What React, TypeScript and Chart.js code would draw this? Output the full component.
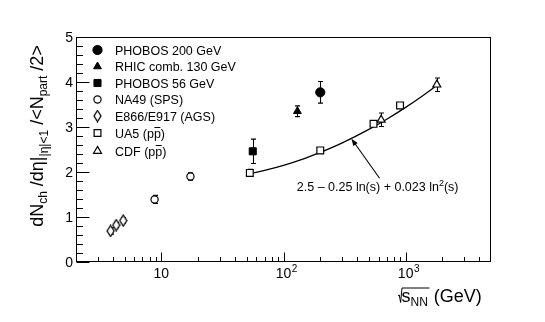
import React, { useEffect, useRef } from "react";
import { Chart, registerables } from "chart.js";
import { drawPoint } from "chart.js/helpers";

Chart.register(...registerables);

// ---------------- data ----------------
const phobos200X = [200];
const phobos200Y = [3.77];
const phobos200Err = [0.24];

const rhic130X = [130];
const rhic130Y = [3.35];
const rhic130Err = [0.12];

const phobos56X = [56];
const phobos56Y = [2.46];
const phobos56Err = [0.27];

const na49X = [8.8, 17.3];
const na49Y = [1.39, 1.9];
const na49Err = [0.09, 0.08];

const agsX = [3.84, 4.27, 4.87];
const agsY = [0.69, 0.82, 0.92];
const agsErr = [0.07, 0.06, 0.06];

const ua5X = [53, 200, 546, 900];
const ua5Y = [1.98, 2.48, 3.07, 3.48];
const ua5Err = [0.08, 0.05, 0.05, 0.05];

const cdfX = [630, 1800];
const cdfY = [3.16, 3.94];
const cdfErr = [0.15, 0.15];

// fit curve 2.5 - 0.25 ln(s) + 0.023 ln^2(s), sampled points
const fitX = [53, 70, 100, 150, 200, 300, 500, 700, 1000, 1400, 1800];
const fitY = [1.965, 2.037, 2.149, 2.305, 2.434, 2.641, 2.946, 3.173, 3.436, 3.706, 3.922];

// axes
const xMin = 2;
const xMax = 5000;
const yMin = 0;
const yMax = 5;
const xMajorTicks = [10, 100, 1000];
const xMajorExp = ["", "2", "3"];
const xMinorTicks = [3, 4, 5, 6, 7, 8, 9, 20, 30, 40, 50, 60, 70, 80, 90, 200, 300, 400, 500, 600, 700, 800, 900, 2000, 3000, 4000];
const yMajorTicks = [0, 1, 2, 3, 4, 5];
const yMinorTicks = [0.2, 0.4, 0.6, 0.8, 1.2, 1.4, 1.6, 1.8, 2.2, 2.4, 2.6, 2.8, 3.2, 3.4, 3.6, 3.8, 4.2, 4.4, 4.6, 4.8];

const legendLabels = [
  "PHOBOS 200 GeV",
  "RHIC comb. 130 GeV",
  "PHOBOS 56 GeV",
  "NA49 (SPS)",
  "E866/E917 (AGS)",
  "UA5 (pp\u0305)",
  "CDF (pp\u0305)",
];

// annotation anchor points in data coordinates
const arrowTip = { x: 360, y: 2.74 };
const arrowTail = { x: 612, y: 1.86 };
const formulaPos = { x: 590, y: 1.58 };

const FONT = '"Liberation Sans", Arial, Helvetica, sans-serif';
const f = (s: number) => `${s}px ${FONT}`;

type Part = { t: string; s: number; dy?: number };

function partsWidth(ctx: CanvasRenderingContext2D, parts: Part[]) {
  let w = 0;
  for (const p of parts) {
    ctx.font = f(p.s);
    w += ctx.measureText(p.t).width;
  }
  return w;
}

function drawParts(ctx: CanvasRenderingContext2D, parts: Part[], x: number, y: number) {
  let cx = x;
  for (const p of parts) {
    ctx.font = f(p.s);
    ctx.fillText(p.t, cx, y + (p.dy || 0));
    cx += ctx.measureText(p.t).width;
  }
  return cx;
}

function makeDiamond(): HTMLCanvasElement {
  const c = document.createElement("canvas");
  c.width = 9;
  c.height = 13;
  const g = c.getContext("2d")!;
  g.beginPath();
  g.moveTo(4.5, 1);
  g.lineTo(8, 6.5);
  g.lineTo(4.5, 12);
  g.lineTo(1, 6.5);
  g.closePath();
  g.fillStyle = "#fff";
  g.fill();
  g.lineWidth = 1.3;
  g.strokeStyle = "#000";
  g.stroke();
  return c;
}

function pts(xs: number[], ys: number[]) {
  return xs.map((x, i) => ({ x, y: ys[i] }));
}

export default function App() {
  const ref = useRef<HTMLCanvasElement | null>(null);

  useEffect(() => {
    const canvas = ref.current;
    if (!canvas) return;
    const diamond = makeDiamond();

    const openStyle = { backgroundColor: "#fff", borderColor: "#000", pointBorderWidth: 1.2 };
    const filledStyle = { backgroundColor: "#000", borderColor: "#000", pointBorderWidth: 1 };

    const datasets: any[] = [
      { label: legendLabels[0], data: pts(phobos200X, phobos200Y), errors: phobos200Err, pointStyle: "circle", pointRadius: 4.6, ...filledStyle },
      { label: legendLabels[1], data: pts(rhic130X, rhic130Y), errors: rhic130Err, pointStyle: "triangle", pointRadius: 4.5, ...filledStyle },
      { label: legendLabels[2], data: pts(phobos56X, phobos56Y), errors: phobos56Err, pointStyle: "rect", pointRadius: 5, ...filledStyle },
      { label: legendLabels[3], data: pts(na49X, na49Y), errors: na49Err, pointStyle: "circle", pointRadius: 3.6, ...openStyle },
      { label: legendLabels[4], data: pts(agsX, agsY), errors: agsErr, pointStyle: diamond, pointRadius: 4, ...openStyle },
      { label: legendLabels[5], data: pts(ua5X, ua5Y), errors: ua5Err, pointStyle: "rect", pointRadius: 4.8, ...openStyle },
      { label: legendLabels[6], data: pts(cdfX, cdfY), errors: cdfErr, pointStyle: "triangle", pointRadius: 4.6, ...openStyle },
      {
        label: "fit",
        data: pts(fitX, fitY),
        showLine: true,
        pointRadius: 0,
        borderColor: "#000",
        borderWidth: 1.3,
        tension: 0.4,
        cubicInterpolationMode: "monotone",
        order: 10,
      },
    ];
    datasets.forEach((d, i) => {
      if (i < 7) {
        d.showLine = false;
        d.order = 0;
      }
    });

    const legendItems = datasets.slice(0, 7);

    const errorBars = {
      id: "errorBars",
      beforeDatasetsDraw(chart: any) {
        const ctx: CanvasRenderingContext2D = chart.ctx;
        const xs = chart.scales.x;
        const ys = chart.scales.y;
        ctx.save();
        ctx.strokeStyle = "#000";
        ctx.lineWidth = 1.1;
        chart.data.datasets.forEach((ds: any) => {
          if (!ds.errors) return;
          ds.data.forEach((p: any, i: number) => {
            const e = ds.errors[i];
            const px = Math.round(xs.getPixelForValue(p.x)) + 0.5;
            const y1 = ys.getPixelForValue(p.y + e);
            const y2 = ys.getPixelForValue(p.y - e);
            ctx.beginPath();
            ctx.moveTo(px, y1);
            ctx.lineTo(px, y2);
            ctx.moveTo(px - 2.5, y1);
            ctx.lineTo(px + 2.5, y1);
            ctx.moveTo(px - 2.5, y2);
            ctx.lineTo(px + 2.5, y2);
            ctx.stroke();
          });
        });
        ctx.restore();
      },
    };

    const decor = {
      id: "decor",
      afterDraw(chart: any) {
        const ctx: CanvasRenderingContext2D = chart.ctx;
        const a = chart.chartArea;
        const xs = chart.scales.x;
        const ys = chart.scales.y;
        ctx.save();
        ctx.strokeStyle = "#000";
        ctx.fillStyle = "#000";
        ctx.lineWidth = 1;
        const L = Math.round(a.left) + 0.5;
        const R = Math.round(a.right) - 0.5;
        const T = Math.round(a.top) + 0.5;
        const B = Math.round(a.bottom) - 0.5;
        ctx.strokeRect(L, T, R - L, B - T);

        // x ticks
        ctx.beginPath();
        for (const v of xMajorTicks) {
          const px = Math.round(xs.getPixelForValue(v)) + 0.5;
          ctx.moveTo(px, B);
          ctx.lineTo(px, B - 9);
        }
        for (const v of xMinorTicks) {
          const px = Math.round(xs.getPixelForValue(v)) + 0.5;
          ctx.moveTo(px, B);
          ctx.lineTo(px, B - 4.5);
        }
        // y ticks
        for (const v of yMajorTicks) {
          const py = Math.round(ys.getPixelForValue(v)) + 0.5;
          ctx.moveTo(L, py);
          ctx.lineTo(L + 13, py);
        }
        for (const v of yMinorTicks) {
          const py = Math.round(ys.getPixelForValue(v)) + 0.5;
          ctx.moveTo(L, py);
          ctx.lineTo(L + 6.5, py);
        }
        ctx.stroke();

        // tick labels
        ctx.textBaseline = "alphabetic";
        ctx.font = f(14);
        ctx.textAlign = "right";
        for (const v of yMajorTicks) {
          const py = ys.getPixelForValue(v);
          ctx.fillText(String(v), a.left - 3, py + 5);
        }
        ctx.textAlign = "left";
        xMajorTicks.forEach((v, i) => {
          const px = xs.getPixelForValue(v);
          ctx.font = f(14);
          const w = ctx.measureText("10").width;
          ctx.fillText("10", px - w / 2, a.bottom + 16);
          if (xMajorExp[i]) {
            ctx.font = f(10);
            ctx.fillText(xMajorExp[i], px + w / 2 + 0.5, a.bottom + 10);
          }
        });

        // x title
        {
          const yb = 302;
          const x0 = 398;
          const sParts: Part[] = [
            { t: "s", s: 18 },
            { t: "NN", s: 12, dy: 4 },
          ];
          const sw = partsWidth(ctx, sParts);
          ctx.lineWidth = 1;
          ctx.beginPath();
          ctx.moveTo(x0, yb - 6);
          ctx.lineTo(x0 + 1.3, yb - 7);
          ctx.lineTo(x0 + 2.6, yb + 0.5);
          ctx.lineTo(x0 + 4, yb - 14);
          ctx.lineTo(x0 + 4 + sw + 1, yb - 14);
          ctx.stroke();
          const end = drawParts(ctx, sParts, x0 + 3.5, yb);
          drawParts(ctx, [{ t: " (GeV)", s: 18 }], end + 1, yb);
        }

        // y title (rotated)
        {
          const parts: Part[] = [
            { t: "dN", s: 18 },
            { t: "ch", s: 12, dy: 4 },
            { t: " /d\u03b7|", s: 18 },
            { t: "|\u03b7|<1", s: 12, dy: 5 },
            { t: " /<N", s: 18 },
            { t: "part", s: 12, dy: 4 },
            { t: " /2>", s: 18 },
          ];
          const w = partsWidth(ctx, parts);
          ctx.save();
          ctx.translate(43, 136 + w / 2);
          ctx.rotate(-Math.PI / 2);
          drawParts(ctx, parts, 0, 0);
          ctx.restore();
        }

        // legend
        const rows = [50, 66.5, 83, 99.5, 116, 133, 151];
        legendItems.forEach((ds: any, i: number) => {
          const y = rows[i];
          ctx.save();
          ctx.fillStyle = ds.backgroundColor;
          ctx.strokeStyle = ds.borderColor;
          ctx.lineWidth = ds.pointBorderWidth;
          drawPoint(ctx, { pointStyle: ds.pointStyle, radius: ds.pointRadius, rotation: 0, borderWidth: ds.pointBorderWidth } as any, 97.5, y);
          ctx.restore();
          ctx.fillStyle = "#000";
          ctx.font = f(12.5);
          ctx.textAlign = "left";
          const lab: string = ds.label;
          if (lab.includes("\u0305")) {
            // draw "pp" with overline on second p
            const base = lab.split("(")[0] + "(";
            ctx.fillText(base, 115, y + 4.5);
            let cx = 115 + ctx.measureText(base).width;
            ctx.fillText("p", cx, y + 4.5);
            cx += ctx.measureText("p").width;
            const pw = ctx.measureText("p").width;
            ctx.fillText("p", cx, y + 4.5);
            ctx.beginPath();
            ctx.lineWidth = 1;
            ctx.moveTo(cx + 0.5, y - 5.5);
            ctx.lineTo(cx + pw - 0.5, y - 5.5);
            ctx.stroke();
            cx += pw;
            ctx.fillText(")", cx, y + 4.5);
          } else {
            ctx.fillText(lab, 115, y + 4.5);
          }
        });

        // formula annotation + arrow
        {
          const parts: Part[] = [
            { t: "2.5 \u2013 0.25 ln(s) + 0.023 ln", s: 12.5 },
            { t: "2", s: 9, dy: -5 },
            { t: "(s)", s: 12.5 },
          ];
          const w = partsWidth(ctx, parts);
          const cx = xs.getPixelForValue(formulaPos.x);
          const cy = ys.getPixelForValue(formulaPos.y);
          ctx.fillStyle = "#000";
          drawParts(ctx, parts, cx - w / 2, cy);

          const tx = xs.getPixelForValue(arrowTip.x);
          const ty = ys.getPixelForValue(arrowTip.y);
          const sx = xs.getPixelForValue(arrowTail.x);
          const sy = ys.getPixelForValue(arrowTail.y);
          const ang = Math.atan2(ty - sy, tx - sx);
          const hl = 7;
          const hw = 2.6;
          ctx.strokeStyle = "#000";
          ctx.lineWidth = 1.1;
          ctx.beginPath();
          ctx.moveTo(sx, sy);
          ctx.lineTo(tx - Math.cos(ang) * hl * 0.8, ty - Math.sin(ang) * hl * 0.8);
          ctx.stroke();
          ctx.beginPath();
          ctx.moveTo(tx, ty);
          ctx.lineTo(tx - Math.cos(ang) * hl - Math.sin(ang) * hw, ty - Math.sin(ang) * hl + Math.cos(ang) * hw);
          ctx.lineTo(tx - Math.cos(ang) * hl + Math.sin(ang) * hw, ty - Math.sin(ang) * hl - Math.cos(ang) * hw);
          ctx.closePath();
          ctx.fill();
        }
        ctx.restore();
      },
    };

    const chart = new Chart(canvas, {
      type: "scatter",
      data: { datasets },
      options: {
        responsive: false,
        animation: false,
        events: [],
        layout: { padding: { left: 76, right: 54, top: 37, bottom: 60 } },
        plugins: { legend: { display: false }, tooltip: { enabled: false } },
        scales: {
          x: { type: "logarithmic", min: xMin, max: xMax, display: false },
          y: { type: "linear", min: yMin, max: yMax, display: false },
        },
      } as any,
      plugins: [errorBars, decor],
    });
    return () => chart.destroy();
  }, []);

  return (
    <div style={{ position: "fixed", left: 0, top: 0, width: 545, height: 322, background: "#fff" }}>
      <canvas ref={ref} width={545} height={322} style={{ width: 545, height: 322, display: "block" }} />
    </div>
  );
}
